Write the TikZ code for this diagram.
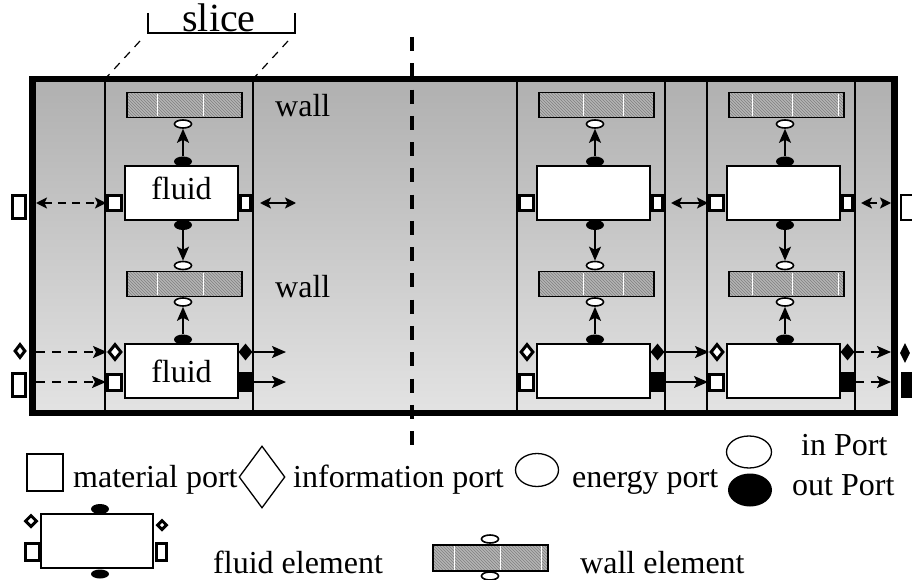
\documentclass[tikz,border=0pt]{standalone}
\usepackage{fontspec}
\setmainfont{Liberation Serif}
\usetikzlibrary{shapes.geometric,arrows.meta,patterns,calc}

\tikzset{
  frameline/.style={line width=6.5pt},
  sliceline/.style={line width=1.4pt},
  fluidbox/.style={draw, fill=white, line width=1.6pt, minimum width=113pt, minimum height=54pt, inner sep=0pt},
  wallbox/.style={draw, line width=1.6pt, preaction={fill=gray!58}, pattern=north west lines, pattern color=black!50, minimum width=115pt, minimum height=25pt, inner sep=0pt},
  hatchgap/.style={white, line width=1pt},
  ein/.style={ellipse, draw, fill=white, line width=1.6pt, minimum width=17pt, minimum height=8pt, inner sep=0pt},
  eout/.style={ellipse, fill=black, minimum width=18pt, minimum height=10pt, inner sep=0pt},
  mport/.style={draw, fill=white, line width=3pt, inner sep=0pt},
  bport/.style={fill=black, inner sep=0pt},
  dport/.style={diamond, draw, fill=white, line width=3pt, inner sep=0pt},
  bdport/.style={diamond, fill=black, inner sep=0pt},
  arr/.style={line width=1.8pt, -{Stealth[length=14pt,width=12pt,inset=3pt]}},
  dblarr/.style={line width=1.8pt, {Stealth[length=11pt,width=11pt,inset=2.5pt]}-{Stealth[length=11pt,width=11pt,inset=2.5pt]}},
  darr/.style={line width=1.8pt, dash pattern=on 9pt off 7pt, -{Stealth[length=14pt,width=12pt,inset=3pt]}},
  ddblarr/.style={line width=1.8pt, dash pattern=on 8pt off 6pt, {Stealth[length=11pt,width=11pt,inset=2.5pt]}-{Stealth[length=11pt,width=11pt,inset=2.5pt]}},
  lbl/.style={inner sep=0pt, anchor=base west},
}

\newcommand{\fslice}[4]{%
\begin{scope}[xshift=#1pt]
  \draw[sliceline] (105,79) -- (105,413) (253,79) -- (253,413);
  \node[wallbox] (#2w1) at (184.5,105) {};
  \node[wallbox] (#2w2) at (184.5,284) {};
  \foreach \wx in {#4}{\draw[hatchgap] (\wx,94) -- (\wx,116) (\wx,273) -- (\wx,295);}
  \node[ein] (#2e1) at (183,124) {};
  \node[eout] (#2o1) at (183,161.5) {};
  \node[fluidbox] (#2f1) at (181.5,193) {};
  \node[eout] (#2o2) at (183,225) {};
  \node[ein] (#2e2) at (183,265.5) {};
  \node[ein] (#2e3) at (183,302) {};
  \node[eout] (#2o3) at (183,339.5) {};
  \node[fluidbox] (#2f2) at (181.5,371) {};
  \node[inner sep=0pt, anchor=base] (#2t1) at (181.5,200) {#3};
  \node[inner sep=0pt, anchor=base] (#2t2) at (181.5,382) {#3};
  \node[mport, minimum width=14pt, minimum height=15pt] (#2pL1) at (114.5,203) {};
  \node[mport, minimum width=10pt, minimum height=15pt] (#2pR1) at (245.5,203) {};
  \node[dport, minimum width=13pt, minimum height=16pt] (#2dL) at (115,352) {};
  \node[bdport, minimum width=14pt, minimum height=17pt] (#2dR) at (245.5,352) {};
  \node[mport, minimum width=14pt, minimum height=16pt] (#2pL2) at (114.5,382) {};
  \node[bport, minimum width=14pt, minimum height=20pt] (#2pR2) at (245.5,382) {};
  \draw[arr] (#2o1) -- (#2e1);
  \draw[arr] (#2o2) -- (#2e2);
  \draw[arr] (#2o3) -- (#2e3);
\end{scope}}

\begin{document}
\begin{tikzpicture}[x=1pt, y=-1pt, font=\fontsize{32}{38}\selectfont]
\useasboundingbox (0,0) rectangle (912,580);
\clip (0,0) rectangle (912,580);

% background gradient
\shade[top color=gray!62, bottom color=gray!22] (32.5,79) rectangle (894.5,413);

% slices
\fslice{0}{L}{fluid}{157,203}
\fslice{412}{A}{}{171,211}
\fslice{602}{B}{}{150,190,236}

% frame
\draw[frameline] (32.5,79) rectangle (894.5,413);

% labels wall
\node[lbl] (wall1) at (275,117) {wall};
\node[lbl] (wall2) at (275,297) {wall};

% slice bracket
\coordinate (sb1) at (148,13);
\coordinate (sb2) at (148,33);
\coordinate (sb3) at (295,33);
\coordinate (sb4) at (295,13);
\draw[line width=1.4pt] (sb1) -- (sb2) -- (sb3) -- (sb4);
\node[inner sep=0pt, anchor=base, font=\fontsize{40}{44}\selectfont] (slicelbl) at (219,32) {slice};
\coordinate (dg1) at (140,41);
\coordinate (dg2) at (105,79);
\coordinate (dg3) at (288,41);
\coordinate (dg4) at (253,79);
\draw[line width=1.2pt, dash pattern=on 8pt off 7pt] (dg1) -- (dg2) (dg3) -- (dg4);

% outside left ports
\node[mport, minimum width=13pt, minimum height=23pt] (OL1) at (19,207) {};
\node[dport, minimum width=11pt, minimum height=14pt] (OLd) at (20,351) {};
\node[mport, minimum width=13pt, minimum height=23pt] (OL2) at (19,385) {};
\coordinate (FL1) at (36,203);
\coordinate (FL2) at (36,352);
\coordinate (FL3) at (36,382);
\draw[ddblarr] (FL1) -- (LpL1.west);
\draw[darr] (FL2) -- (LdL.west);
\draw[darr] (FL3) -- (LpL2.west);

% left slice right side
\coordinate (LX1) at (260,203);
\coordinate (LX2) at (296,203);
\coordinate (LX3) at (286,352);
\coordinate (LX4) at (286,382);
\draw[dblarr] (LX1) -- (LX2);
\draw[arr] (LdR.east) -- (LX3);
\draw[arr] (LpR2.east) -- (LX4);

% A to B
\draw[dblarr] ([xshift=7pt]ApR1.east) -- (BpL1.west);
\draw[arr] (AdR.east) -- (BdL.west);
\draw[arr] (ApR2.east) -- (BpL2.west);

% B to right frame
\coordinate (FR1) at (891,203);
\coordinate (FR2) at (891,352);
\coordinate (FR3) at (891,382);
\draw[ddblarr] ([xshift=7pt]BpR1.east) -- (FR1);
\draw[darr] (BdR.east) -- (FR2);
\draw[darr] (BpR2.east) -- (FR3);

% outside right ports
\node[draw, fill=white, line width=2pt, inner sep=0pt, minimum width=30pt, minimum height=25pt] (OR1) at (916,207) {};
\node[bdport, minimum width=10pt, minimum height=20pt] (ORd) at (905,353) {};
\node[bport, minimum width=30pt, minimum height=26pt] (OR2) at (916,385) {};

% center dashed line
\coordinate (cl1) at (412,37);
\coordinate (cl2) at (412,446);
\draw[line width=3.5pt, dash pattern=on 14pt off 12.27pt] (cl1) -- (cl2);

% legend row 1
\node[draw, line width=1.3pt, inner sep=0pt, minimum width=36pt, minimum height=37pt] (lgm) at (45,472.5) {};
\node[lbl] (lgmt) at (73,487) {material port};
\node[diamond, draw, line width=1.3pt, inner sep=0pt, minimum width=46pt, minimum height=62pt] (lgi) at (262,477) {};
\node[lbl] (lgit) at (293,487) {information port};
\node[ellipse, draw, line width=1.3pt, inner sep=0pt, minimum width=43pt, minimum height=33pt] (lge) at (537,470) {};
\node[lbl] (lget) at (572,487) {energy port};
\node[ellipse, draw, line width=1.3pt, inner sep=0pt, minimum width=45pt, minimum height=32pt] (lgin) at (749,452) {};
\node[ellipse, fill=black, inner sep=0pt, minimum width=44pt, minimum height=33pt] (lgout) at (750,490) {};
\node[lbl] (lgint) at (801,455) {in Port};
\node[lbl] (lgoutt) at (792,495) {out Port};

% legend fluid element
\node[draw, fill=white, line width=1.6pt, inner sep=0pt, minimum width=112pt, minimum height=54pt] (lgf) at (97,541) {};
\node[eout, minimum width=18pt, minimum height=10pt] (lgfo1) at (100,509) {};
\node[eout, minimum width=18pt, minimum height=9pt] (lgfo2) at (100,574) {};
\node[dport, minimum width=12pt, minimum height=12pt] (lgfd1) at (31,521) {};
\node[dport, minimum width=10pt, minimum height=10pt] (lgfd2) at (162,525) {};
\node[mport, minimum width=14pt, minimum height=17pt] (lgfp1) at (32,551.5) {};
\node[mport, minimum width=10pt, minimum height=17pt] (lgfp2) at (161,551.5) {};
\node[lbl] (lgft) at (213,573) {fluid element};

% legend wall element
\node[wallbox, minimum height=26pt] (lgw) at (490.5,558) {};
\foreach \wx in {454,500,541}{\draw[hatchgap] (\wx,546) -- (\wx,570);}
\node[ein] (lgwe1) at (490,539) {};
\node[ein] (lgwe2) at (490,576) {};
\node[lbl] (lgwt) at (580,573) {wall element};
\end{tikzpicture}
\end{document}
